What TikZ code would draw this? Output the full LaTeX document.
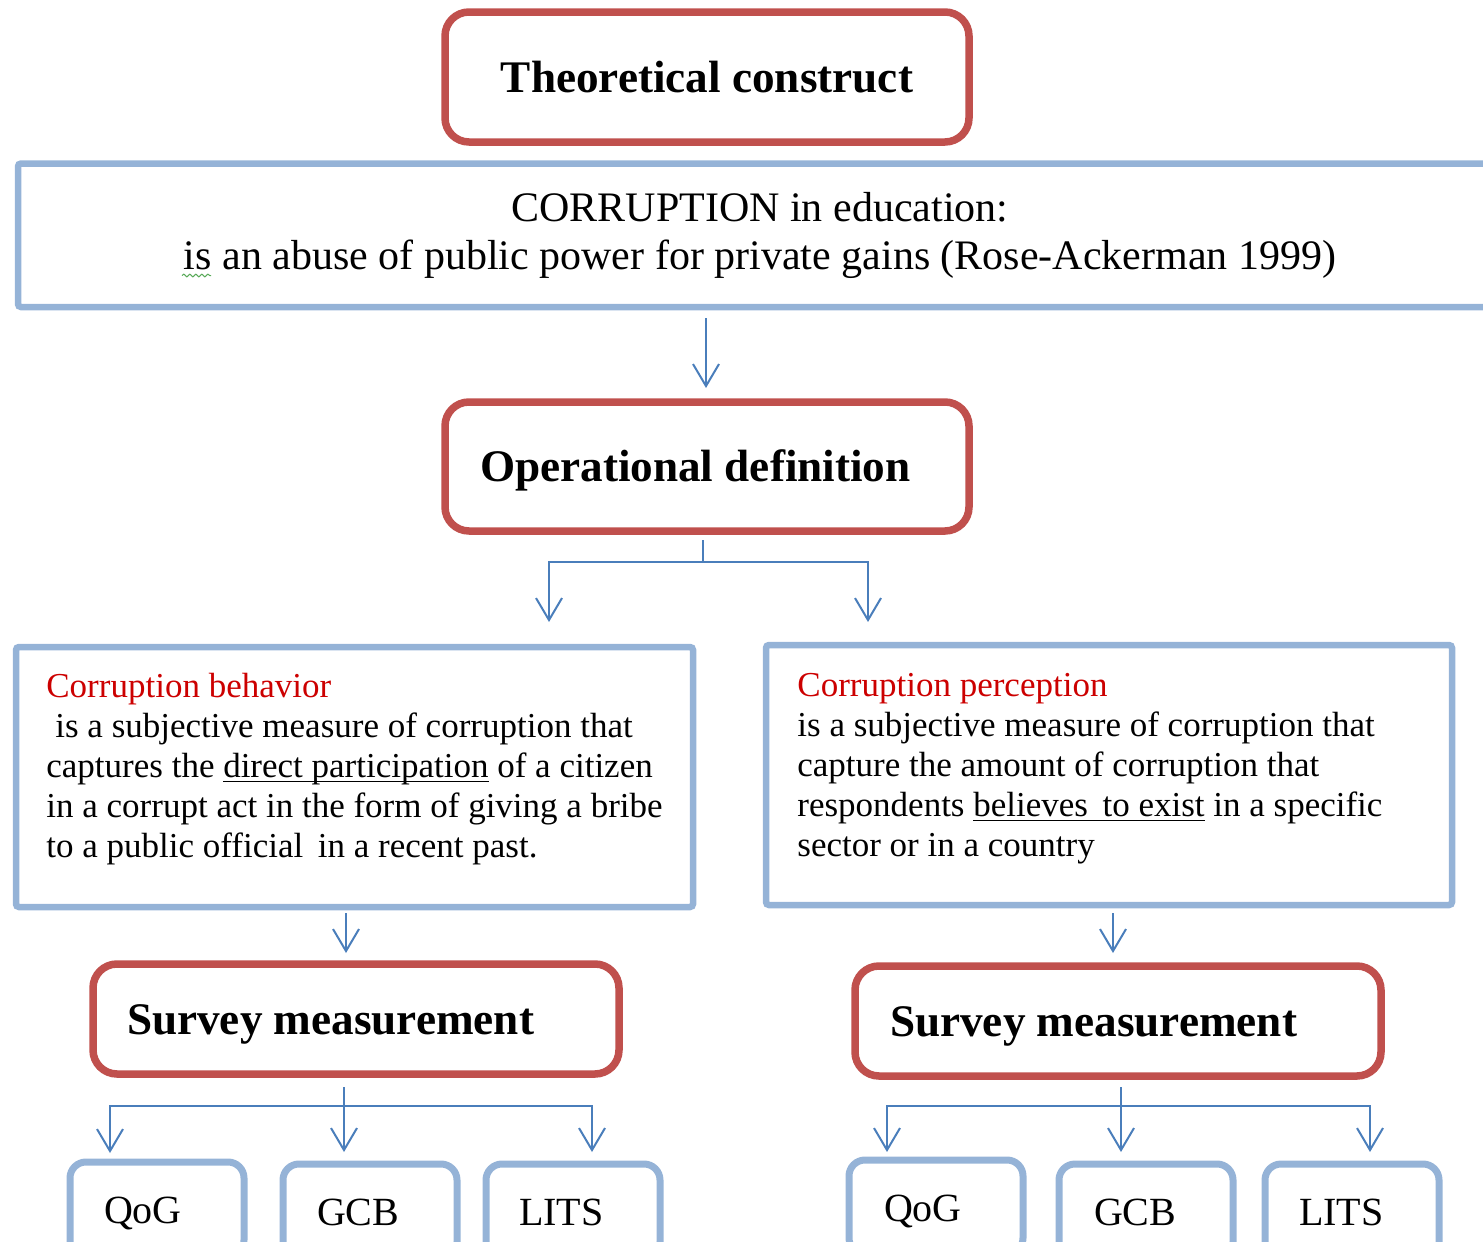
\documentclass[tikz,border=0pt]{standalone}
\usepackage{fontspec}
\setmainfont{Liberation Serif}
\usetikzlibrary{arrows.meta,decorations.pathmorphing}
\definecolor{redb}{RGB}{192,80,77}
\definecolor{blueb}{RGB}{149,179,215}
\definecolor{linkc}{RGB}{74,126,187}
\definecolor{headred}{RGB}{204,0,0}
\definecolor{squig}{RGB}{90,170,90}
\newsavebox\ulbox
\newcommand\myul[1]{\sbox\ulbox{#1}\rlap{\rule[-2.4pt]{\wd\ulbox}{0.7pt}}\usebox\ulbox}
\begin{document}
\begin{tikzpicture}[x=0.5pt,y=-0.5pt,
  redbox/.style={draw=redb, line width=3.75pt, rounded corners=12pt, fill=white,
    inner sep=0pt, outer sep=0pt, anchor=north west, text height=15pt, text depth=0pt,
    font=\fontsize{22.6}{27}\selectfont\bfseries},
  textbox/.style={draw=blueb, line width=3.25pt, rounded corners=1.5pt, inner sep=0pt,
    outer sep=0pt, anchor=north west},
  smallbox/.style={draw=blueb, line width=3.5pt, rounded corners=8pt, inner sep=0pt,
    outer sep=0pt, anchor=north west, minimum width=87pt, minimum height=47pt,
    text height=14pt, text depth=0pt, font=\fontsize{20}{24}\selectfont},
  bodytext/.style={anchor=north west, inner sep=0pt, align=left,
    font=\fontsize{17.5}{20}\selectfont},
  link/.style={draw=linkc, line width=1pt},
  arr/.style={link, -{Straight Barb[length=11pt,width=13pt]}},
]
\path[use as bounding box] (0,0) rectangle (1483,1242);
\clip (0,0) rectangle (1483,1242);

% top boxes
\node[redbox, minimum width=262pt, minimum height=65pt] (theo) at (445,12) {Theoretical construct};
\node[textbox, minimum width=742pt, minimum height=71.75pt, align=center,
  font=\fontsize{21}{24}\selectfont] (corr) at (18,163.5)
  {CORRUPTION in education:\\is an abuse of public power for private gains (Rose-Ackerman 1999)};
\draw[squig, line width=0.5pt, decorate, decoration={snake, amplitude=0.7pt, segment length=3pt}]
  (182,275.5) -- (211,275.5);

\node[redbox, minimum width=262pt, minimum height=64.5pt] (op) at (445,402)
  {\makebox[262pt][l]{\hspace{17.5pt}Operational definition}};

% middle text boxes
\node[textbox, minimum width=338.5pt, minimum height=130pt] (lbox) at (16,647) {};
\node[bodytext] (ltext) at ([shift={(30,26)}]lbox.north west)
  {{\color{headred}Corruption behavior}\\
   \hspace*{4.5pt}is a subjective measure of corruption that\\
   captures the \myul{direct participation} of a citizen\\
   in a corrupt act in the form of giving a bribe\\
   to a public official \,in a recent past.};

\node[textbox, minimum width=343pt, minimum height=130pt] (rbox) at (766,645) {};
\node[bodytext] (rtext) at ([shift={(31,28)}]rbox.north west)
  {{\color{headred}Corruption perception}\\
   is a subjective measure of corruption that\\
   capture the amount of corruption that\\
   respondents \myul{believes \,to exist} in a specific\\
   sector or in a country};

% survey boxes
\node[redbox, minimum width=263pt, minimum height=55pt] (lsurv) at (93,964)
  {\makebox[263pt][l]{\hspace{17pt}Survey measurement}};
\node[redbox, minimum width=263pt, minimum height=55pt] (rsurv) at (855,966)
  {\makebox[263pt][l]{\hspace{17.5pt}Survey measurement}};

% small boxes
\node[smallbox] (lqog) at (70,1162) {\makebox[87pt][l]{\hspace{17pt}QoG}};
\node[smallbox] (lgcb) at (283,1164) {\makebox[87pt][l]{\hspace{17pt}GCB}};
\node[smallbox] (llits) at (486,1164) {\makebox[87pt][l]{\hspace{16.5pt}LITS}};
\node[smallbox] (rqog) at (849,1160) {\makebox[87pt][l]{\hspace{17.5pt}QoG}};
\node[smallbox] (rgcb) at (1059,1164) {\makebox[87pt][l]{\hspace{17.5pt}GCB}};
\node[smallbox] (rlits) at (1265,1164) {\makebox[87pt][l]{\hspace{17pt}LITS}};

% connector coordinates
\coordinate (fk) at (703,562);
\coordinate (bL) at (549,622);
\coordinate (bR) at (868,622);
\coordinate (la) at (346,953);
\coordinate (ra) at (1113,953);
\coordinate (lm) at (344,1152);
\coordinate (lh) at (344,1106);
\coordinate (lq) at (110,1153);
\coordinate (ll) at (592,1152);
\coordinate (rm) at (1121,1152);
\coordinate (rh) at (1121,1106);
\coordinate (rq) at (887,1152);
\coordinate (rl) at (1370,1152);

% connectors
\draw[arr, shorten <=5.5pt, shorten >=7pt] (corr.south -| 706,0) -- (op.north -| 706,0);
\draw[link, shorten <=4.5pt] (op.south -| fk) -- (fk);
\draw[arr] (fk) -| (bL);
\draw[arr] (fk) -| (bR);
\draw[arr, shorten <=3pt] (lbox.south -| la) -- (la);
\draw[arr, shorten <=4pt] (rbox.south -| ra) -- (ra);
\draw[arr, shorten <=6.5pt] (lsurv.south -| lm) -- (lm);
\draw[arr] (lh) -| (lq);
\draw[arr] (lh) -| (ll);
\draw[arr, shorten <=5.5pt] (rsurv.south -| rm) -- (rm);
\draw[arr] (rh) -| (rq);
\draw[arr] (rh) -| (rl);
\end{tikzpicture}
\end{document}
